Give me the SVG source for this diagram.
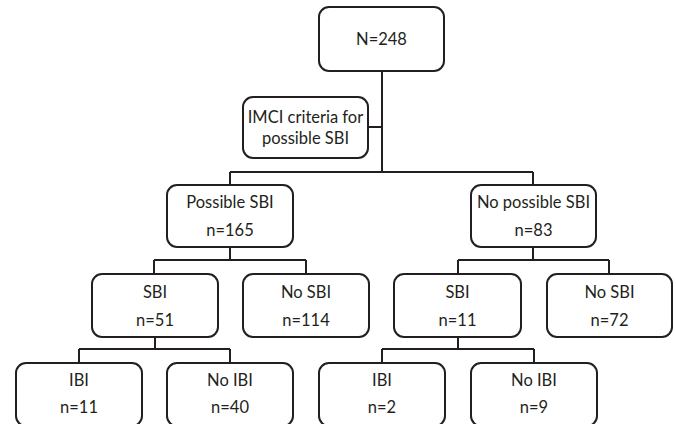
<svg xmlns="http://www.w3.org/2000/svg" width="676" height="424" viewBox="0 0 676 424">
<style>
.box{fill:#fff;stroke:#231f20;stroke-width:2}
.ln{fill:none;stroke:#231f20;stroke-width:2}
text{font-family:Lato,"Liberation Sans",sans-serif;font-size:16.5px;fill:#231f20;text-anchor:middle}
</style>
<rect width="676" height="424" fill="#fff"/>
<g id="connectors">
<path class="ln" d="M382 71V172M368 127H382M230 172H533M230 172V185M533 172V185"/>
<path class="ln" d="M230 247V260M154 260H306M154 260V274M306 260V274"/>
<path class="ln" d="M533 247V260M458 260H609M458 260V274M609 260V274"/>
<path class="ln" d="M155 337V349M79 349H230M79 349V363M230 349V363"/>
<path class="ln" d="M458 337V349M382 349H534M382 349V363M534 349V363"/>
</g>
<g id="n248"><rect class="box" x="319" y="7" width="125" height="64" rx="10"/><text x="381.5" y="45">N=248</text></g>
<g id="imci"><rect class="box" x="243" y="97" width="125" height="61" rx="10"/><text x="305.5" y="123">IMCI criteria for</text><text x="305.5" y="144">possible SBI</text></g>
<g id="possible"><rect class="box" x="167" y="185" width="126" height="62" rx="10"/><text x="230" y="208">Possible SBI</text><text x="230" y="236">n=165</text></g>
<g id="nopossible"><rect class="box" x="471" y="185" width="125" height="62" rx="10"/><text x="533.5" y="208">No possible SBI</text><text x="533.5" y="236">n=83</text></g>
<g id="sbi1"><rect class="box" x="92" y="274" width="126" height="63" rx="10"/><text x="155" y="298">SBI</text><text x="155" y="326">n=51</text></g>
<g id="nosbi1"><rect class="box" x="243" y="274" width="126" height="63" rx="10"/><text x="306" y="298">No SBI</text><text x="306" y="326">n=114</text></g>
<g id="sbi2"><rect class="box" x="394" y="274" width="127" height="63" rx="10"/><text x="457.5" y="298">SBI</text><text x="457.5" y="326">n=11</text></g>
<g id="nosbi2"><rect class="box" x="547" y="274" width="125" height="63" rx="10"/><text x="609.5" y="298">No SBI</text><text x="609.5" y="326">n=72</text></g>
<g id="ibi1"><rect class="box" x="16" y="363" width="126" height="63" rx="10"/><text x="79" y="386">IBI</text><text x="79" y="413">n=11</text></g>
<g id="noibi1"><rect class="box" x="167" y="363" width="126" height="63" rx="10"/><text x="230" y="386">No IBI</text><text x="230" y="413">n=40</text></g>
<g id="ibi2"><rect class="box" x="319" y="363" width="126" height="63" rx="10"/><text x="382" y="386">IBI</text><text x="382" y="413">n=2</text></g>
<g id="noibi2"><rect class="box" x="471" y="363" width="126" height="63" rx="10"/><text x="534" y="386">No IBI</text><text x="534" y="413">n=9</text></g>
</svg>
